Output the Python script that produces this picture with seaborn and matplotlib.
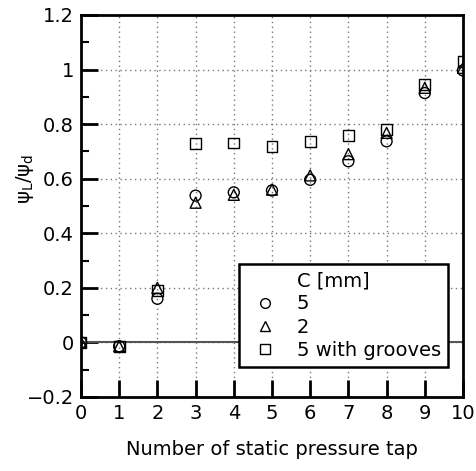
import matplotlib
matplotlib.use("Agg")
import matplotlib.pyplot as plt
from matplotlib.lines import Line2D
from matplotlib.ticker import MultipleLocator
import seaborn as sns
import pandas as pd

taps = [0, 1, 2, 3, 4, 5, 6, 7, 8, 9, 10]
c5 = [0.0, -0.014, 0.16, 0.538, 0.55, 0.557, 0.596, 0.664, 0.737, 0.914, 0.997]
c2 = [0.0, -0.014, 0.20, 0.512, 0.541, 0.56, 0.612, 0.69, 0.768, 0.933, 1.006]
c5g = [0.0, -0.014, 0.19, 0.728, 0.731, 0.719, 0.735, 0.758, 0.782, 0.945, 1.03]
labels = ["5", "2", "5 with grooves"]
yticks = [-0.2, 0, 0.2, 0.4, 0.6, 0.8, 1.0, 1.2]
yticklabels = ["\u22120.2", "0", "0.2", "0.4", "0.6", "0.8", "1", "1.2"]

df = pd.DataFrame({
    "tap": taps * 3,
    "ratio": c5 + c2 + c5g,
    "case": [labels[0]] * 11 + [labels[1]] * 11 + [labels[2]] * 11,
})

sns.set_style("white")
plt.rcParams["font.family"] = ["DejaVu Sans"]
plt.rcParams["text.color"] = "black"
plt.rcParams["axes.labelcolor"] = "black"
plt.rcParams["xtick.color"] = "black"
plt.rcParams["ytick.color"] = "black"

fig = plt.figure(figsize=(4.76, 4.71), dpi=100)
ax = fig.add_axes([81 / 476, 74 / 471, 382 / 476, 382 / 471])

ax.axhline(0, color="#555555", lw=1.5, zorder=1)
sns.scatterplot(data=df, x="tap", y="ratio", style="case",
                markers={"5": "o", "2": "^", "5 with grooves": "s"},
                facecolor="none", edgecolor="black", linewidth=1.0,
                s=62, ax=ax, legend=False, zorder=3)

ax.set_xlim(0, 10)
ax.set_ylim(-0.2, 1.2)
ax.set_xticks(taps)
ax.set_xticklabels([str(t) for t in taps])
ax.set_yticks(yticks)
ax.set_yticklabels(yticklabels)
ax.yaxis.set_minor_locator(MultipleLocator(0.1))
ax.grid(True, which="major", ls=(0, (1, 2.5)), color="#777777", lw=1.0)
ax.tick_params(which="major", direction="in", length=12, width=2,
               labelsize=14, left=True, bottom=True, pad=5)
ax.tick_params(which="minor", direction="in", length=6, width=1.5, left=True)
for sp in ax.spines.values():
    sp.set_linewidth(2)
    sp.set_color("black")

ax.set_xlabel("Number of static pressure tap", fontsize=14, labelpad=12)
ax.set_ylabel("ψ$_\\mathregular{L}$/ψ$_\\mathregular{d}$", fontsize=14)
ax.yaxis.set_label_coords(-0.118, 0.57)

blank = Line2D([], [], linestyle="none", marker="none")
hs = [blank] + [Line2D([], [], linestyle="none", marker=m, mfc="none", mec="black",
                       mew=1.0, ms=7) for m in ["o", "^", "s"]]
leg = ax.legend(hs, ["C [mm]"] + labels, loc="lower right",
                bbox_to_anchor=(0.96, 0.079), fontsize=14, frameon=True,
                fancybox=False, edgecolor="black", framealpha=1,
                handletextpad=0.7, labelspacing=0.22, borderpad=0.35,
                handlelength=1.9, borderaxespad=0)
leg.get_frame().set_linewidth(1.8)

fig.savefig("out.png", dpi=100)
